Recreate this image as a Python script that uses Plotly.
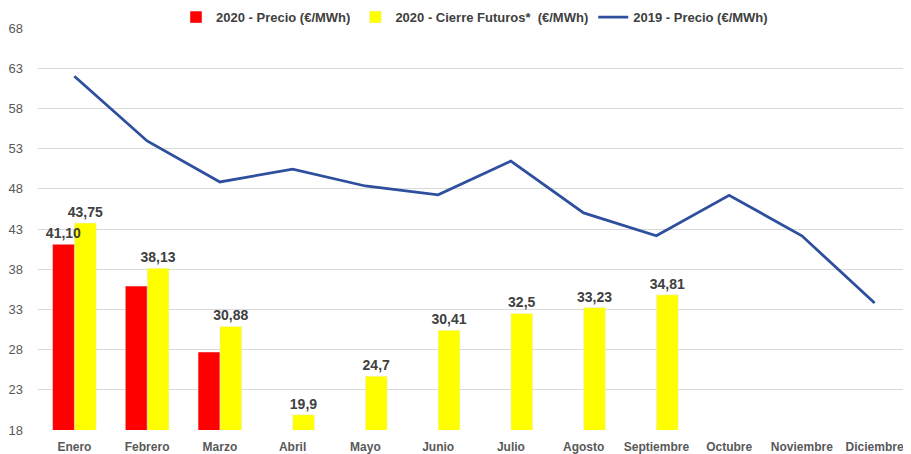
import plotly.graph_objects as go

meses = ["Enero", "Febrero", "Marzo", "Abril", "Mayo", "Junio", "Julio",
         "Agosto", "Septiembre", "Octubre", "Noviembre", "Diciembre"]
precio_2020 = [41.10, 35.9, 27.7, None, None, None, None, None, None, None, None, None]
precio_2020_lbl = ["41,10", "", "", "", "", "", "", "", "", "", "", ""]
futuros_2020 = [43.75, 38.13, 30.88, 19.9, 24.7, 30.41, 32.5, 33.23, 34.81, None, None, None]
futuros_2020_lbl = ["43,75", "38,13", "30,88", "19,9", "24,7", "30,41", "32,5", "33,23", "34,81", "", "", ""]
precio_2019 = [62.0, 53.95, 48.85, 50.45, 48.35, 47.25, 51.45, 45.0, 42.15, 47.2, 42.15, 33.8]
y_ticks = [18, 23, 28, 33, 38, 43, 48, 53, 58, 63, 68]

narrow = "Liberation Sans Narrow, Arial Narrow, Liberation Sans, sans-serif"
lbl_font = dict(family="Liberation Sans, sans-serif", size=14, color="#404040", weight="bold")

fig = go.Figure()
# yellow drawn first so the red series' label sits on top of it (as in the original)
fig.add_trace(go.Bar(
    x=meses, y=futuros_2020, name="2020 - Cierre Futuros*  (€/MWh)",
    marker_color="#FFFF00", text=futuros_2020_lbl, textposition="outside",
    textfont=lbl_font, cliponaxis=False, constraintext="none",
    width=0.3, offset=0.0, legendrank=2,
))
fig.add_trace(go.Bar(
    x=meses, y=precio_2020, name="2020 - Precio (€/MWh)",
    marker_color="#FF0000", text=precio_2020_lbl, textposition="outside",
    textfont=lbl_font, cliponaxis=False, constraintext="none",
    width=0.3, offset=-0.3, legendrank=1,
))
fig.add_trace(go.Scatter(
    x=meses, y=precio_2019, name="2019 - Precio (€/MWh)", mode="lines",
    line=dict(color="#2E4E9E", width=2.8), legendrank=3,
))

# the page body adds an 8px offset, compensated here
fig.update_layout(
    width=911, height=454,
    margin=dict(l=30, r=8, t=20, b=32, autoexpand=False),
    paper_bgcolor="white", plot_bgcolor="white",
    barmode="overlay",
    font=dict(family=narrow, color="#595959"),
    legend=dict(orientation="h", x=0.5, xanchor="center", y=1.027, yanchor="middle",
                font=dict(family=narrow, size=13, color="#404040", weight="bold"),
                traceorder="normal", itemwidth=30),
    showlegend=True,
)
fig.update_xaxes(showgrid=False, showline=False, ticks="", automargin=False,
                 ticklabelstandoff=8,
                 tickfont=dict(family=narrow, size=12, color="#595959", weight="bold"))
fig.update_yaxes(range=[18, 68], tickvals=y_ticks, showgrid=True, gridcolor="#D9D9D9",
                 gridwidth=1, zeroline=False, showline=False, automargin=False,
                 ticklabelstandoff=14,
                 tickfont=dict(family="Liberation Sans, sans-serif", size=13, color="#595959"))

fig.write_html("out.html")
